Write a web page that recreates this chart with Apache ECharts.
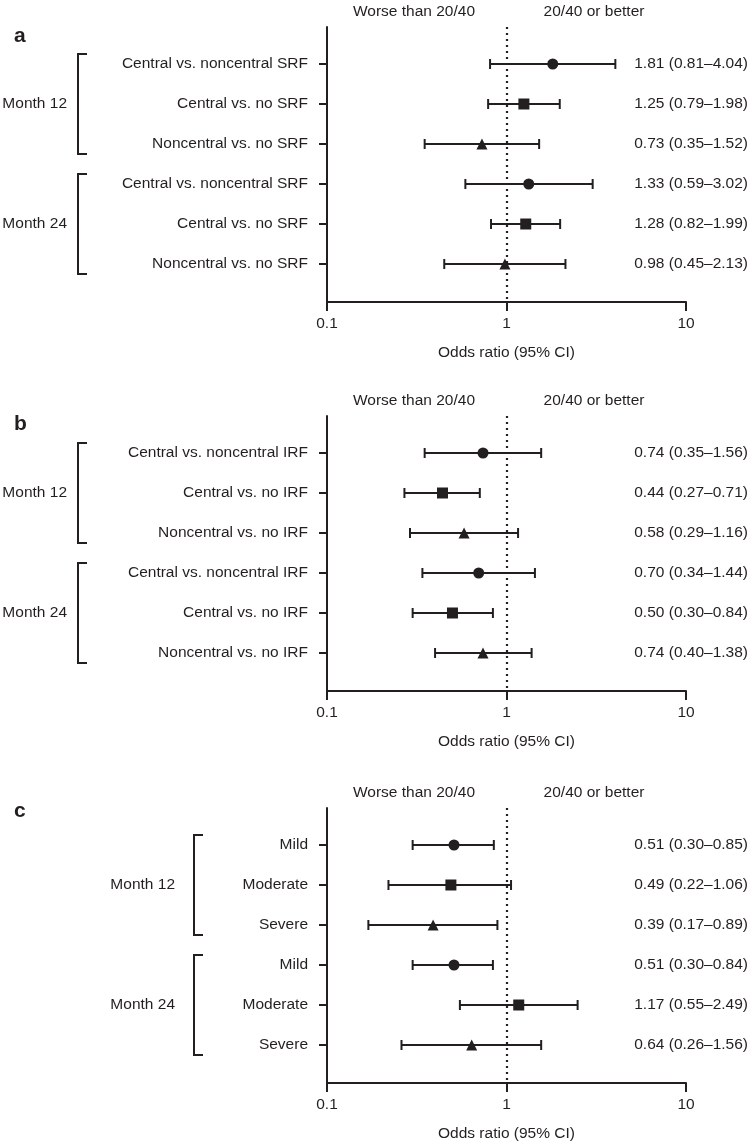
<!DOCTYPE html>
<html><head><meta charset="utf-8">
<script src="https://cdn.jsdelivr.net/npm/echarts@6/dist/echarts.min.js"></script>
<style>html,body{margin:0;padding:0;background:#fff}#c{width:752px;height:1143px}</style>
</head><body><div id="c"></div>
<script>
// ---- data ----
const labelsA = ['Central vs. noncentral SRF','Central vs. no SRF','Noncentral vs. no SRF','Central vs. noncentral SRF','Central vs. no SRF','Noncentral vs. no SRF'];
const orA = [1.81, 1.25, 0.73, 1.33, 1.28, 0.98];
const loA = [0.81, 0.79, 0.35, 0.59, 0.82, 0.45];
const hiA = [4.04, 1.98, 1.52, 3.02, 1.99, 2.13];

const labelsB = ['Central vs. noncentral IRF','Central vs. no IRF','Noncentral vs. no IRF','Central vs. noncentral IRF','Central vs. no IRF','Noncentral vs. no IRF'];
const orB = [0.74, 0.44, 0.58, 0.70, 0.50, 0.74];
const loB = [0.35, 0.27, 0.29, 0.34, 0.30, 0.40];
const hiB = [1.56, 0.71, 1.16, 1.44, 0.84, 1.38];

const labelsC = ['Mild','Moderate','Severe','Mild','Moderate','Severe'];
const orC = [0.51, 0.49, 0.39, 0.51, 1.17, 0.64];
const loC = [0.30, 0.22, 0.17, 0.30, 0.55, 0.26];
const hiC = [0.85, 1.06, 0.89, 0.84, 2.49, 1.56];

const markerShapes = ['circle','rect','triangle','circle','rect','triangle'];
const groupNames = ['Month 12','Month 24'];
const groupRanges = [[0, 2], [3, 5]];
const panelLetters = ['a','b','c'];
const xTicks = [0.1, 1, 10];
const leftHeader = 'Worse than 20/40';
const rightHeader = '20/40 or better';
const xTitle = 'Odds ratio (95% CI)';

// ---- layout / style ----
const INK = '#231f20';
const FONT = '"Liberation Sans", Arial, Helvetica, sans-serif';
const FS = 15.5;
const GRID_LEFT = 327, GRID_W = 359, GRID_H = 275;
const panels = [
  {labels: labelsA, or: orA, lo: loA, hi: hiA, top: 27, bracketX: 78, groupRight: 67, letterY: 43},
  {labels: labelsB, or: orB, lo: loB, hi: hiB, top: 416, bracketX: 78, groupRight: 67, letterY: 431},
  {labels: labelsC, or: orC, lo: loC, hi: hiC, top: 808, bracketX: 194, groupRight: 175, letterY: 818}
];
const fmt = v => v.toFixed(2);
const idx = [0,1,2,3,4,5];

const grids = [], xAxes = [], yAxes = [], series = [], graphics = [];
panels.forEach((p, i) => {
  const right = p.or.map((v, k) => `${fmt(v)} (${fmt(p.lo[k])}\u2013${fmt(p.hi[k])})`);
  grids.push({left: GRID_LEFT, top: p.top, width: GRID_W, height: GRID_H});
  xAxes.push({
    type: 'log', logBase: 10, min: 0.1, max: 10, gridIndex: i,
    axisLine: {show: true, onZero: false, lineStyle: {color: INK, width: 2}},
    axisTick: {show: true, length: 9, lineStyle: {color: INK, width: 2}},
    minorTick: {show: false}, splitLine: {show: false},
    axisLabel: {color: INK, fontSize: FS, fontFamily: FONT, margin: 14,
      formatter: v => String(xTicks.reduce((a, b) => Math.abs(Math.log10(b) - Math.log10(v)) < Math.abs(Math.log10(a) - Math.log10(v)) ? b : a))},
    name: xTitle, nameLocation: 'middle', nameGap: 43,
    nameTextStyle: {color: INK, fontSize: FS, fontFamily: FONT}
  });
  yAxes.push({
    type: 'value', inverse: true, min: -0.925, max: 5.95, gridIndex: i,
    axisLine: {show: true, onZero: false, lineStyle: {color: INK, width: 2}},
    axisTick: {show: true, length: 8, customValues: idx, lineStyle: {color: INK, width: 2}},
    splitLine: {show: false},
    axisLabel: {customValues: idx, margin: 19, color: INK, fontSize: FS, fontFamily: FONT,
      formatter: v => p.labels[Math.round(v)]}
  });
  yAxes.push({
    type: 'value', inverse: true, min: -0.925, max: 5.95, gridIndex: i, position: 'right',
    axisLine: {show: false, onZero: false}, axisTick: {show: false}, splitLine: {show: false},
    axisLabel: {customValues: idx, margin: 62, align: 'right', color: INK, fontSize: FS, fontFamily: FONT,
      formatter: v => right[Math.round(v)]}
  });
  const yIdx = i * 2;
  // error bars
  series.push({
    type: 'custom', xAxisIndex: i, yAxisIndex: yIdx, clip: false, z: 3,
    data: idx.map(k => [p.lo[k], p.hi[k], k]),
    encode: {x: [0, 1], y: 2},
    renderItem: (params, api) => {
      const a = api.coord([api.value(0), api.value(2)]);
      const b = api.coord([api.value(1), api.value(2)]);
      const st = {stroke: INK, lineWidth: 2};
      return {type: 'group', children: [
        {type: 'line', shape: {x1: a[0], y1: a[1], x2: b[0], y2: b[1]}, style: st},
        {type: 'line', shape: {x1: a[0], y1: a[1] - 5, x2: a[0], y2: a[1] + 5}, style: st},
        {type: 'line', shape: {x1: b[0], y1: b[1] - 5, x2: b[0], y2: b[1] + 5}, style: st}
      ]};
    }
  });
  // point estimates + reference line
  series.push({
    type: 'scatter', xAxisIndex: i, yAxisIndex: yIdx, z: 4,
    data: idx.map(k => [p.or[k], k]),
    symbol: (val, params) => markerShapes[params.dataIndex],
    symbolSize: 11,
    itemStyle: {color: INK, opacity: 1},
    markLine: {
      silent: true, symbol: 'none', label: {show: false},
      lineStyle: {color: INK, width: 2.2, type: [2, 4]},
      data: [{xAxis: 1}]
    }
  });
  // brackets with group labels
  series.push({
    type: 'custom', xAxisIndex: i, yAxisIndex: yIdx, clip: false, silent: true,
    data: groupRanges.map((r, g) => [1, r[0], r[1], g]),
    encode: {x: 0, y: [1, 2]},
    renderItem: (params, api) => {
      const y1 = api.coord([1, api.value(1) - 0.25])[1];
      const y2 = api.coord([1, api.value(2) + 0.25])[1];
      const bx = p.bracketX;
      return {type: 'group', children: [
        {type: 'polyline', shape: {points: [[bx + 9, y1], [bx, y1], [bx, y2], [bx + 9, y2]]},
          style: {stroke: INK, lineWidth: 2, fill: null}},
        {type: 'text', style: {x: p.groupRight, y: (y1 + y2) / 2, text: groupNames[api.value(3)],
          textAlign: 'right', textVerticalAlign: 'middle', fill: INK, fontSize: FS, fontFamily: FONT}}
      ]};
    }
  });
  graphics.push({type: 'text', left: 14, top: p.letterY - 17,
    style: {text: panelLetters[i], fill: INK, font: `bold 21px ${FONT}`}});
  graphics.push({type: 'text', x: 414, y: p.top - 15,
    style: {text: leftHeader, fill: INK, fontSize: FS, fontFamily: FONT, textAlign: 'center', textVerticalAlign: 'middle'}});
  graphics.push({type: 'text', x: 594, y: p.top - 15,
    style: {text: rightHeader, fill: INK, fontSize: FS, fontFamily: FONT, textAlign: 'center', textVerticalAlign: 'middle'}});
});

const chart = echarts.init(document.getElementById('c'), null, {renderer: 'canvas'});
chart.setOption({
  backgroundColor: '#fff', animation: false,
  textStyle: {fontFamily: FONT},
  grid: grids, xAxis: xAxes, yAxis: yAxes, series: series, graphic: graphics
});
</script></body></html>
